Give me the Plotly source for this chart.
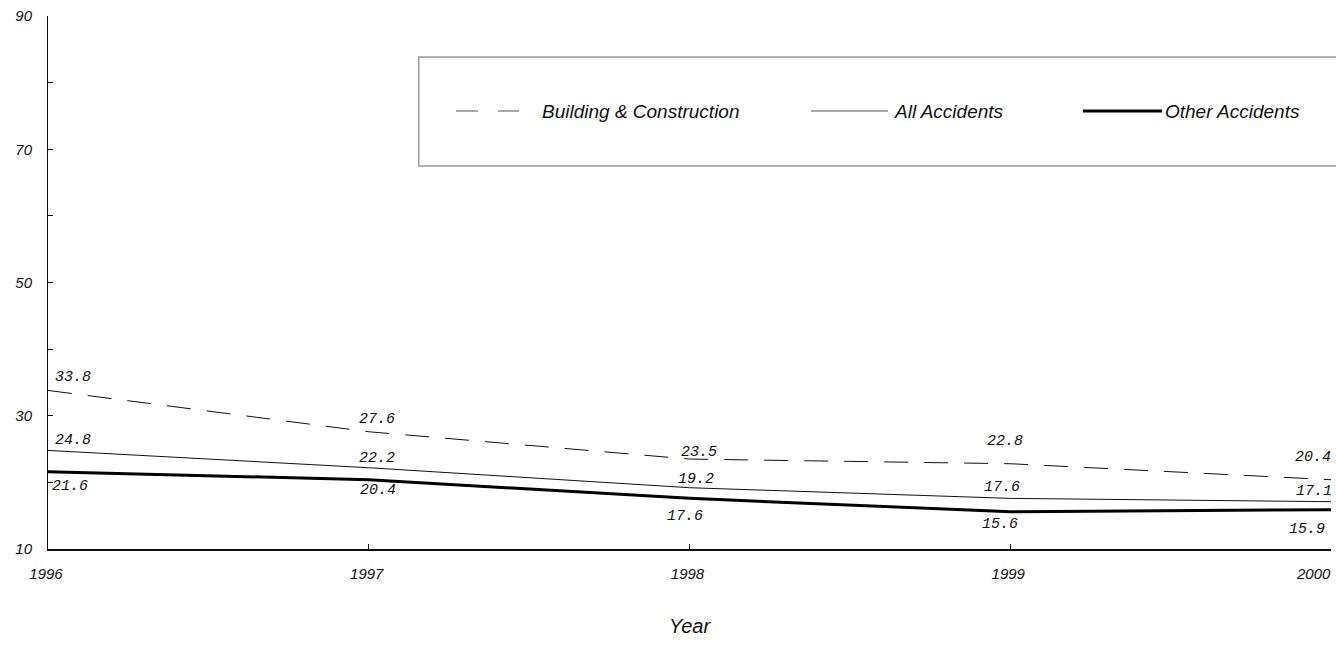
import plotly.graph_objects as go

years = [1996, 1997, 1998, 1999, 2000]
building = [33.8, 27.6, 23.5, 22.8, 20.4]
all_accidents = [24.8, 22.2, 19.2, 17.6, 17.1]
other_accidents = [21.6, 20.4, 17.6, 15.6, 15.9]

y_ticks = [10, 30, 50, 70, 90]
y_minor = [20, 40, 60, 80]

# label offsets (px) relative to each point
building_shift = [(25, 13), (8, 12), (9, 7), (-5, 22), (-18, 22)]
all_shift = [(25, 10), (8, 9), (6, 8), (-8, 11), (-17, 10)]
other_shift = [(22, -15), (9, -11), (-5, -18), (-10, -13), (-24, -20)]

LABEL_FONT = dict(family="Liberation Mono", size=15, color="#111", style="italic")
TICK_FONT = dict(family="Liberation Sans", size=15, color="#111", style="italic")

# the last year label is drawn as a right-anchored annotation so it stays in the window
x_ticktext = [str(y) for y in years[:-1]] + [""]

fig = go.Figure()
fig.add_trace(go.Scatter(x=years, y=building, mode="lines", name="Building & Construction",
                         line=dict(color="#111", width=1, dash="24px,16px")))
fig.add_trace(go.Scatter(x=years, y=all_accidents, mode="lines", name="All Accidents",
                         line=dict(color="#111", width=1)))
fig.add_trace(go.Scatter(x=years, y=other_accidents, mode="lines", name="Other Accidents",
                         line=dict(color="#000", width=3)))

annotations = []
for series, shifts in [(building, building_shift), (all_accidents, all_shift),
                       (other_accidents, other_shift)]:
    for x, y, (dx, dy) in zip(years, series, shifts):
        annotations.append(dict(x=x, y=y, text=f"{y:.1f}", showarrow=False,
                                xshift=dx, yshift=dy, font=LABEL_FONT))

annotations.append(dict(x=years[-1], xref="x", y=0, yref="paper", text=str(years[-1]),
                        showarrow=False, xanchor="right", yanchor="middle",
                        xshift=2, yshift=-24, font=TICK_FONT))

# hand-made legend box (plot area is 1283 px wide, 533 px tall)
shapes = [dict(type="rect", xref="paper", yref="paper", x0=0.289, x1=1.1, y0=0.7186, y1=0.923,
               line=dict(color="#9a9a9a", width=1.5), fillcolor="rgba(0,0,0,0)")]
legend_items = [
    ("Building & Construction", 408, 471, dict(color="#555", width=1, dash="22px,20px"), 492),
    ("All Accidents", 763, 840, dict(color="#555", width=1), 844),
    ("Other Accidents", 1035, 1114, dict(color="#000", width=3), 1115),
]
leg_y = (549 - 111) / 533
for name, x0, x1, line, tx in legend_items:
    shapes.append(dict(type="line", xref="paper", yref="paper", x0=x0 / 1283, x1=x1 / 1283,
                       y0=leg_y, y1=leg_y, line=line))
    annotations.append(dict(xref="paper", yref="paper", x=tx / 1283, y=leg_y, text=name,
                            showarrow=False, xanchor="left", yanchor="middle",
                            font=dict(family="Liberation Sans", size=19, color="#111",
                                      style="italic")))

fig.update_layout(
    width=1336, height=645,
    margin=dict(l=48, r=5, t=16, b=96),
    paper_bgcolor="white", plot_bgcolor="white",
    showlegend=False,
    hovermode=False,
    annotations=annotations,
    shapes=shapes,
)
fig.update_xaxes(
    range=[1996, 2000], tickvals=years, ticktext=x_ticktext, ticks="inside", ticklen=5,
    tickcolor="#111", showgrid=False, zeroline=False, showline=True, linecolor="#111",
    linewidth=1.5, tickfont=TICK_FONT, ticklabelstandoff=10, ticklabelshift=-2,
    automargin=False, ticklabeloverflow="allow",
    title=dict(text="Year", font=dict(family="Liberation Sans", size=20, color="#111",
                                      style="italic"), standoff=38),
)
fig.update_yaxes(
    range=[10, 90], tickvals=y_ticks, ticks="inside", ticklen=5, tickcolor="#111",
    minor=dict(tickvals=y_minor, ticks="inside", ticklen=5, tickcolor="#111"),
    showgrid=False, zeroline=False, showline=True, linecolor="#111", linewidth=1,
    tickfont=TICK_FONT, ticklabelstandoff=12, automargin=False, ticklabeloverflow="allow",
)

# drop the default page margin so the figure sits flush in the window
fig.write_html("out.html", config={"displayModeBar": False},
               post_script="document.body.style.margin='0';")
